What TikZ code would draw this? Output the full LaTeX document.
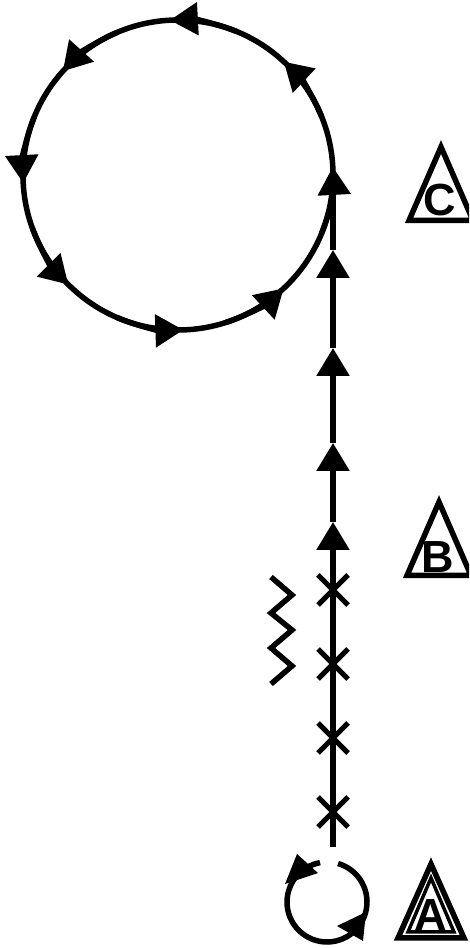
\documentclass[tikz,border=0pt]{standalone}
\usepackage{fontspec}
\setmainfont{Liberation Sans}
\usetikzlibrary{arrows.meta,shapes.misc}

\begin{document}
\begin{tikzpicture}[
			x=1pt,y=1pt,
			track/.style={line width=5.5pt},
			flow/.style={track,-{Triangle[length=28pt,width=32pt]}},
			cross/.style={draw,cross out,line width=5pt,minimum size=25pt,inner sep=0pt},
			tri/.style={line width=5.5pt},
			letter/.style={anchor=base,inner sep=0pt,font=\fontsize{45}{54}\selectfont\bfseries}
			]
			
			\useasboundingbox (0,0) rectangle (469,948);
			\clip (0,0) rectangle (469,948);
			
			\coordinate (loop) at (178,773);
			\coordinate (spin) at (327,46);
			\coordinate (start) at (333,101);
			\coordinate (a1) at (333,426);
			\coordinate (a2) at (333,505);
			\coordinate (a3) at (333,600);
			\coordinate (a4) at (333,698);
			\coordinate (top) at (333,773);
			
			% big loop
			\draw[track] (loop) circle[radius=155];
			\foreach \a in {3,47,93,138,183,225,272,313}
			\draw[flow] (loop) ++(\a-25:155) arc[start angle=\a-25,end angle=\a,radius=155];
			
			% path up to the loop
			\draw[flow] (start) -- (a1);
			\draw[flow] (a1) -- (a2);
			\draw[flow] (a2) -- (a3);
			\draw[flow] (a3) -- (a4);
			\draw[track] (a4) -- (top);
			
			\foreach \y [count=\i] in {136,210,284,358}
			\node[cross] (x\i) at (333,\y) {};
			
			\draw[track] (271,371) -- (292,353) -- (271,335) -- (292,318)
			-- (271,300) -- (292,282) -- (271,264);
			
			% spin at A
			\draw[track] (spin) ++(74:40) arc[start angle=74,end angle=-260,radius=40];
			\fill (297,94) -- (285,64) -- (318,75) -- cycle;
			\fill (363,7) -- (337,22) -- (366,36) -- cycle;
			
			% markers
			\draw[tri] (431,84) -- (398,10) -- (464,10) -- cycle;
			\draw[line width=3.5pt] (431,70) -- (408,16) -- (454,16) -- cycle;
			\node[letter] (labA) at (431,17) {A};
			
			\draw[tri] (439,446) -- (407,372.5) -- (471,372.5) -- cycle;
			\node[letter] (labB) at (438,375) {B};
			
			\draw[tri] (441,801) -- (409,727.5) -- (473,727.5) -- cycle;
			\node[letter] (labC) at (440,732) {C};
			
		\end{tikzpicture}
\end{document}
